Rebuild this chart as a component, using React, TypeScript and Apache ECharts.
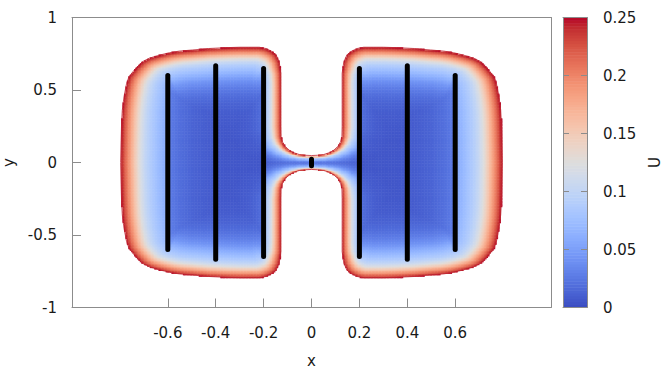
import { useEffect, useRef } from 'react';
import * as echarts from 'echarts';

// Upper-right quarter of the domain wall, from the middle of the neck out to the
// outer side; the other three quarters are its mirror images.
const wallX = [0.000, 0.025, 0.051, 0.075, 0.093, 0.110, 0.121, 0.127, 0.128, 0.128, 0.128, 0.128, 0.135, 0.148, 0.163, 0.190, 0.218, 0.300, 0.357, 0.430, 0.497, 0.553, 0.594, 0.636, 0.678, 0.706, 0.734, 0.762, 0.772, 0.783, 0.790, 0.793, 0.795, 0.797];
const wallY = [0.048, 0.050, 0.055, 0.068, 0.085, 0.110, 0.142, 0.180, 0.250, 0.400, 0.550, 0.615, 0.695, 0.742, 0.764, 0.786, 0.795, 0.795, 0.792, 0.786, 0.776, 0.768, 0.757, 0.740, 0.719, 0.695, 0.650, 0.592, 0.546, 0.453, 0.361, 0.270, 0.150, 0.000];
// Boundary-layer thickness along the wall (1 = outer wall).
const wallT = [0.16, 0.16, 0.18, 0.22, 0.27, 0.33, 0.40, 0.45, 0.50, 0.50, 0.50, 0.55, 0.70, 0.85, 0.95, 1, 1, 1, 1, 1, 1, 1, 1, 1, 1, 1, 1, 1, 1, 1, 1, 1, 1, 1];

// U across the boundary layer: scaled depth from the wall -> U.
const depthS = [0, 0.01, 0.02, 0.04, 0.06, 0.08, 0.10, 0.12, 0.15, 0.18, 0.22, 0.27, 0.32, 0.38, 0.45, 0.60];
const depthU = [0.25, 0.232, 0.214, 0.182, 0.150, 0.122, 0.103, 0.090, 0.076, 0.062, 0.044, 0.029, 0.020, 0.013, 0.009, 0.006];

// Electrodes: vertical segments at x, from -top to +top.
const electrodeX = [-0.6, -0.4, -0.2, 0, 0.2, 0.4, 0.6];
const electrodeTop = [0.60, 0.667, 0.648, 0.023, 0.648, 0.667, 0.60];
const ELECTRODE_SCREEN = 0.08;

const xTicks = [-0.6, -0.4, -0.2, 0, 0.2, 0.4, 0.6];
const colorbarTicks = [0, 0.05, 0.1, 0.15, 0.2, 0.25];

const COOLWARM = [
  '#3b4cc0', '#445acc', '#4d68d7', '#5775e1', '#6282ea', '#6c8ef1', '#779af7', '#82a5fb',
  '#8db0fe', '#98b9ff', '#a3c2ff', '#aec9fd', '#b8d0f9', '#c2d5f4', '#ccd9ee', '#d5dbe6',
  '#dddddd', '#e5d8d1', '#ecd3c5', '#f1ccb9', '#f5c4ad', '#f7bba0', '#f7b194', '#f7a687',
  '#f49a7b', '#f18d6f', '#ec7f63', '#e57058', '#de604d', '#d55042', '#cb3e38', '#c0282f', '#b40426',
];

const DX = 0.006;
const DY = 0.01;

type P = [number, number, number];

function buildWall(): P[] {
  const q1: P[] = wallX.map((x, i) => [x, wallY[i], wallT[i]]);
  const q4: P[] = q1.slice().reverse().map(([x, y, t]) => [x, -y, t] as P);
  const q3: P[] = q1.map(([x, y, t]) => [-x, -y, t] as P);
  const q2: P[] = q1.slice().reverse().map(([x, y, t]) => [-x, y, t] as P);
  return [...q1, ...q4.slice(1), ...q3.slice(1), ...q2.slice(1, -1)];
}

function inside(poly: P[], px: number, py: number): boolean {
  let c = false;
  for (let i = 0, j = poly.length - 1; i < poly.length; j = i++) {
    const [xi, yi] = poly[i];
    const [xj, yj] = poly[j];
    if ((yi > py) !== (yj > py) && px < ((xj - xi) * (py - yi)) / (yj - yi) + xi) c = !c;
  }
  return c;
}

function lookup(s: number): number {
  if (s <= depthS[0]) return depthU[0];
  for (let i = 1; i < depthS.length; i++) {
    if (s <= depthS[i]) {
      const f = (s - depthS[i - 1]) / (depthS[i] - depthS[i - 1]);
      return depthU[i - 1] + f * (depthU[i] - depthU[i - 1]);
    }
  }
  return depthU[depthU.length - 1];
}

function crossings(px: number, py: number, qx: number, qy: number): number {
  let n = 0;
  for (let k = 0; k < electrodeX.length; k++) {
    const ex = electrodeX[k];
    if ((px - ex) * (qx - ex) < 0) {
      const yy = py + ((qy - py) * (ex - px)) / (qx - px);
      if (Math.abs(yy) <= electrodeTop[k] + 0.017) n++;
    }
  }
  return n;
}

function fieldAt(poly: P[], px: number, py: number): number {
  let best = Infinity;
  const n = poly.length;
  for (let i = 0; i < n; i++) {
    const [ax, ay, ta] = poly[i];
    const [bx, by, tb] = poly[(i + 1) % n];
    const vx = bx - ax;
    const vy = by - ay;
    const l2 = vx * vx + vy * vy;
    let u = l2 > 0 ? ((px - ax) * vx + (py - ay) * vy) / l2 : 0;
    u = Math.max(0, Math.min(1, u));
    const qx = ax + u * vx;
    const qy = ay + u * vy;
    const d = Math.hypot(px - qx, py - qy);
    const t = ta + u * (tb - ta);
    if (d / t >= best) continue;
    const s = (d + ELECTRODE_SCREEN * crossings(px, py, qx, qy)) / t;
    if (s < best) best = s;
  }
  return lookup(best);
}

function buildField(poly: P[]): number[][] {
  const out: number[][] = [];
  for (let iy = -80; iy <= 80; iy++) {
    const y = iy * DY;
    for (let ix = -133; ix <= 133; ix++) {
      const x = ix * DX;
      if (!inside(poly, x, y)) continue;
      out.push([x, y, fieldAt(poly, x, y)]);
    }
  }
  return out;
}

const FONT = 'DejaVu Sans';
const TEXT = '#1a1a1a';
const FRAME = '#8c8c8c';

export default function App() {
  const ref = useRef<HTMLDivElement>(null);

  useEffect(() => {
    if (!ref.current) return;
    const chart = echarts.init(ref.current, undefined, { renderer: 'svg' });
    const wall = buildWall();
    const field = buildField(wall);
    const outline = [...wall, wall[0]].map(([x, y]) => [x, y]);

    const cbStep = 0.0025;
    const cbData: number[][] = [];
    for (let k = 0; k < 100; k++) {
      const v = cbStep / 2 + k * cbStep;
      cbData.push([0.5, v, v]);
    }

    const electrodeSeries = electrodeX.map((x, i) => ({
      type: 'line',
      xAxisIndex: 0,
      yAxisIndex: 0,
      data: [[x, -electrodeTop[i]], [x, electrodeTop[i]]],
      symbol: 'none',
      z: 5,
      lineStyle: { color: '#000', width: 5, cap: 'round' },
      silent: true,
    }));

    const label = { fontFamily: FONT, fontSize: 15, color: TEXT };
    const frameLine = { show: true, onZero: false, lineStyle: { color: FRAME } };
    const bare = { axisTick: { show: false }, axisLabel: { show: false }, splitLine: { show: false } };

    chart.setOption({
      animation: false,
      grid: [
        { left: 72, top: 17.5, width: 479, height: 290, outerBoundsMode: 'none', containLabel: false },
        { left: 563, top: 17.5, width: 24, height: 290, outerBoundsMode: 'none', containLabel: false },
      ],
      visualMap: {
        type: 'continuous',
        show: false,
        min: 0,
        max: 0.25,
        dimension: 2,
        seriesIndex: [0, 1],
        inRange: { color: COOLWARM },
      },
      xAxis: [
        {
          type: 'value', gridIndex: 0, min: -1, max: 1, position: 'bottom', z: 10,
          name: 'x', nameLocation: 'middle', nameGap: 47, nameTextStyle: { ...label, lineHeight: 12 },
          axisLine: frameLine,
          axisTick: { show: true, inside: true, length: 9, customValues: xTicks, lineStyle: { color: FRAME } },
          axisLabel: { ...label, margin: 18, customValues: xTicks },
          splitLine: { show: false },
        },
        { type: 'value', gridIndex: 0, min: -1, max: 1, position: 'top', z: 10, axisLine: frameLine, ...bare },
        { type: 'value', gridIndex: 1, min: 0, max: 1, position: 'bottom', z: 10, axisLine: frameLine, ...bare },
        { type: 'value', gridIndex: 1, min: 0, max: 1, position: 'top', z: 10, axisLine: frameLine, ...bare },
      ],
      yAxis: [
        {
          type: 'value', gridIndex: 0, min: -1, max: 1, interval: 0.5, position: 'left', z: 10,
          name: 'y', nameLocation: 'middle', nameGap: 52, nameRotate: 90, nameTextStyle: label,
          axisLine: frameLine,
          axisTick: { show: true, inside: true, length: 9, lineStyle: { color: FRAME } },
          axisLabel: { ...label, margin: 15 },
          splitLine: { show: false },
        },
        { type: 'value', gridIndex: 0, min: -1, max: 1, position: 'right', z: 10, axisLine: frameLine, ...bare },
        {
          type: 'value', gridIndex: 1, min: 0, max: 0.25, interval: 0.05, position: 'right', z: 10,
          name: 'U', nameLocation: 'middle', nameGap: 60, nameRotate: 90, nameTextStyle: label,
          axisLine: frameLine,
          axisTick: { show: true, inside: true, length: 6, customValues: colorbarTicks, lineStyle: { color: FRAME } },
          axisLabel: { ...label, margin: 16 },
          splitLine: { show: false },
        },
        {
          type: 'value', gridIndex: 1, min: 0, max: 0.25, interval: 0.05, position: 'left', z: 10,
          axisLine: frameLine,
          axisTick: { show: true, inside: true, length: 6, lineStyle: { color: FRAME } },
          axisLabel: { show: false }, splitLine: { show: false },
        },
      ],
      series: [
        {
          type: 'custom',
          xAxisIndex: 0,
          yAxisIndex: 0,
          data: field,
          silent: true,
          z: 1,
          progressive: 0,
          progressiveThreshold: 1e9,
          renderItem: (_p: any, api: any) => {
            const x = api.value(0);
            const y = api.value(1);
            const a = api.coord([x - DX / 2, y + DY / 2]);
            const b = api.coord([x + DX / 2, y - DY / 2]);
            return {
              type: 'rect',
              shape: { x: a[0], y: a[1], width: b[0] - a[0] + 0.5, height: b[1] - a[1] + 0.5 },
              style: { fill: api.visual('color') },
            };
          },
        },
        {
          type: 'custom',
          xAxisIndex: 2,
          yAxisIndex: 2,
          data: cbData,
          silent: true,
          z: 1,
          renderItem: (_p: any, api: any) => {
            const v = api.value(1);
            const a = api.coord([0, Math.min(0.25, v + cbStep / 2)]);
            const b = api.coord([1, Math.max(0, v - cbStep / 2)]);
            return {
              type: 'rect',
              shape: { x: a[0], y: a[1], width: b[0] - a[0], height: b[1] - a[1] + 0.5 },
              style: { fill: api.visual('color') },
            };
          },
        },
        {
          type: 'line',
          xAxisIndex: 0,
          yAxisIndex: 0,
          data: outline,
          symbol: 'none',
          z: 3,
          silent: true,
          lineStyle: { color: '#bf2431', width: 0.8 },
        },
        ...electrodeSeries,
      ],
    });

    return () => chart.dispose();
  }, []);

  return (
    <div
      ref={ref}
      style={{ position: 'fixed', left: 0, top: 0, width: 663, height: 368, background: '#fff' }}
    />
  );
}
